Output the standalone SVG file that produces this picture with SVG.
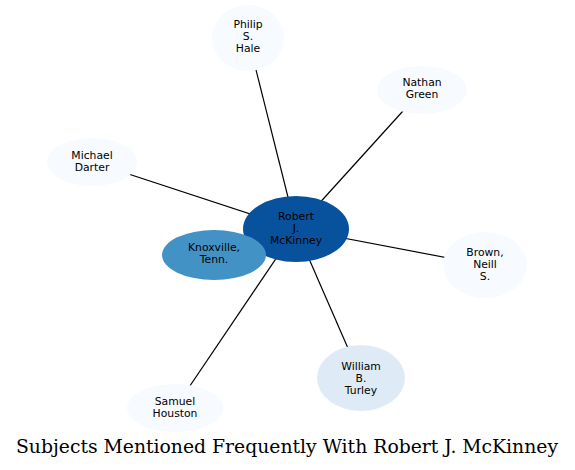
<svg xmlns="http://www.w3.org/2000/svg" width="575" height="470" viewBox="0 0 575 470">
<style>
.e{stroke:#000;stroke-width:1.2;fill:none}
.t{font-family:"DejaVu Sans",sans-serif;font-size:10.8px;text-anchor:middle;fill:#000}
.light{fill:#f7fbff}
</style>
<rect width="575" height="470" fill="#fff"/>
<g id="edges">
<line class="e" x1="296" y1="229" x2="248" y2="38"/>
<line class="e" x1="296" y1="229" x2="422" y2="90"/>
<line class="e" x1="296" y1="229" x2="92" y2="162"/>
<line class="e" x1="296" y1="229" x2="485" y2="265"/>
<line class="e" x1="296" y1="229" x2="361" y2="378"/>
<line class="e" x1="296" y1="229" x2="175" y2="408"/>
<line class="e" x1="296" y1="229" x2="214" y2="255"/>
</g>
<g id="hale"><ellipse class="light" cx="248" cy="38" rx="36" ry="33"/><text class="t"><tspan x="248" y="28">Philip</tspan><tspan x="248" y="40">S.</tspan><tspan x="248" y="52">Hale</tspan></text></g>
<g id="green"><ellipse class="light" cx="422" cy="90" rx="45" ry="24"/><text class="t"><tspan x="422" y="86">Nathan</tspan><tspan x="422" y="98">Green</tspan></text></g>
<g id="darter"><ellipse class="light" cx="92" cy="162" rx="45" ry="24"/><text class="t"><tspan x="92" y="159">Michael</tspan><tspan x="92" y="171">Darter</tspan></text></g>
<g id="brown"><ellipse class="light" cx="485" cy="265" rx="42" ry="33"/><text class="t"><tspan x="485" y="256">Brown,</tspan><tspan x="485" y="268">Neill</tspan><tspan x="485" y="280">S.</tspan></text></g>
<g id="turley"><ellipse fill="#deebf7" cx="361" cy="378" rx="44" ry="33"/><text class="t"><tspan x="361" y="370">William</tspan><tspan x="361" y="382">B.</tspan><tspan x="361" y="394">Turley</tspan></text></g>
<g id="houston"><ellipse class="light" cx="175" cy="408" rx="48" ry="24"/><text class="t"><tspan x="175" y="405">Samuel</tspan><tspan x="175" y="417">Houston</tspan></text></g>
<g id="mckinney"><ellipse fill="#08519c" cx="296" cy="229" rx="53" ry="33"/><text class="t"><tspan x="296" y="220">Robert</tspan><tspan x="296" y="232">J.</tspan><tspan x="296" y="244">McKinney</tspan></text></g>
<g id="knoxville"><ellipse fill="#4292c6" cx="214" cy="255" rx="52" ry="25"/><text class="t"><tspan x="214" y="251">Knoxville,</tspan><tspan x="214" y="263">Tenn.</tspan></text></g>
<text x="287" y="453" style="font-family:'DejaVu Serif',serif;font-size:18.8px;text-anchor:middle;fill:#000">Subjects Mentioned Frequently With Robert J. McKinney</text>
</svg>
